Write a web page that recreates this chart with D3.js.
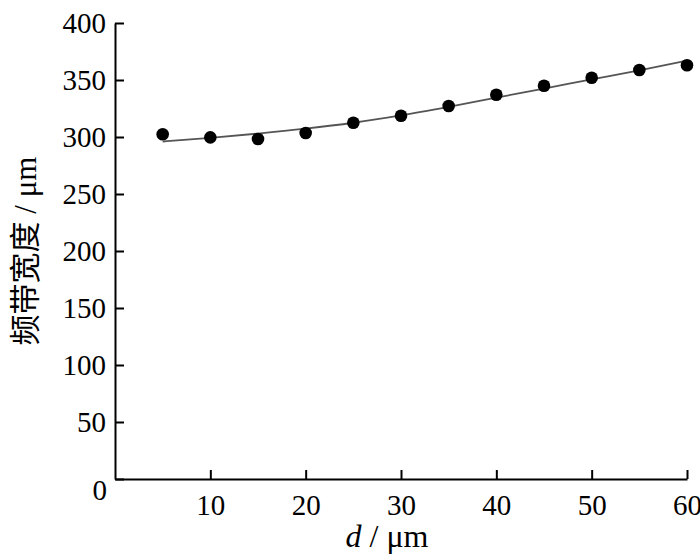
<!DOCTYPE html>
<html>
<head>
<meta charset="utf-8">
<script src="https://cdn.jsdelivr.net/npm/d3@7"></script>
<style>
  body { margin: 0; background: #fff; }
  svg { display: block; }
  .axis text { font-family: "Liberation Serif", "Times New Roman", serif; font-size: 29px; fill: #000; }
  .axis path, .axis line { stroke: #000; stroke-width: 2; }
</style>
</head>
<body>
<div id="vis"></div>
<script>
// measured points (d in µm, bandwidth in µm)
const dValues = [5, 10, 15, 20, 25, 30, 35, 40, 45, 50, 55, 60];
const bandwidth = [302.4, 299.7, 298.2, 303.5, 312.5, 318.7, 327.2, 337.1, 345, 352, 358.8, 362.9];
// fitted curve at the same d values
const fitValues = [296, 299.3, 303, 307.3, 312.5, 319, 326.5, 334.5, 342.5, 350.5, 358.5, 367];
const xTicks = [10, 20, 30, 40, 50, 60];
const yTicks = [0, 50, 100, 150, 200, 250, 300, 350, 400];

const width = 700, height = 560;
const margin = { top: 23, right: 13, bottom: 81, left: 115 };

const svg = d3.select("#vis")
  .append("svg")
  .attr("width", width)
  .attr("height", height);

const x = d3.scaleLinear()
  .domain([0, 60])
  .range([margin.left, width - margin.right]);

const y = d3.scaleLinear()
  .domain([0, 400])
  .range([height - margin.bottom, margin.top]);

// x axis, ticks point inward
svg.append("g")
  .attr("class", "axis")
  .attr("transform", `translate(0,${y(0)})`)
  .call(d3.axisBottom(x)
    .tickValues(xTicks)
    .tickSizeInner(-9)
    .tickSizeOuter(0)
    .tickPadding(15));

// y axis
const yAxis = svg.append("g")
  .attr("class", "axis")
  .attr("transform", `translate(${x(0)},0)`)
  .call(d3.axisLeft(y)
    .tickValues(yTicks)
    .tickSizeInner(-9)
    .tickSizeOuter(0)
    .tickPadding(9));

// the "0" sits below the corner in the original
yAxis.selectAll(".tick")
  .filter(d => d === 0)
  .select("text")
  .attr("dy", "0.7em")
  .attr("x", -8);

// fitted curve
const line = d3.line()
  .x((d, i) => x(dValues[i]))
  .y(d => y(d))
  .curve(d3.curveMonotoneX);

svg.append("path")
  .datum(fitValues)
  .attr("fill", "none")
  .attr("stroke", "#555")
  .attr("stroke-width", 1.8)
  .attr("d", line);

// data points
svg.selectAll(".dot")
  .data(bandwidth)
  .join("circle")
  .attr("class", "dot")
  .attr("cx", (d, i) => x(dValues[i]))
  .attr("cy", d => y(d))
  .attr("r", 6.3)
  .attr("fill", "#000");

// axis titles
const xTitle = svg.append("text")
  .attr("x", 387)
  .attr("y", 547)
  .attr("text-anchor", "middle")
  .style("font-family", "'Liberation Serif', serif")
  .style("font-size", "32px");
xTitle.append("tspan").style("font-style", "italic").text("d");
xTitle.append("tspan").text(" / μm");

svg.append("text")
  .attr("transform", `translate(36,${(y(400) + y(0)) / 2 + 0})rotate(-90)`)
  .attr("text-anchor", "middle")
  .style("font-family", "'Liberation Serif', 'Noto Sans CJK SC', serif")
  .style("font-size", "31px")
  .text("频带宽度 / μm");
</script>
</body>
</html>
